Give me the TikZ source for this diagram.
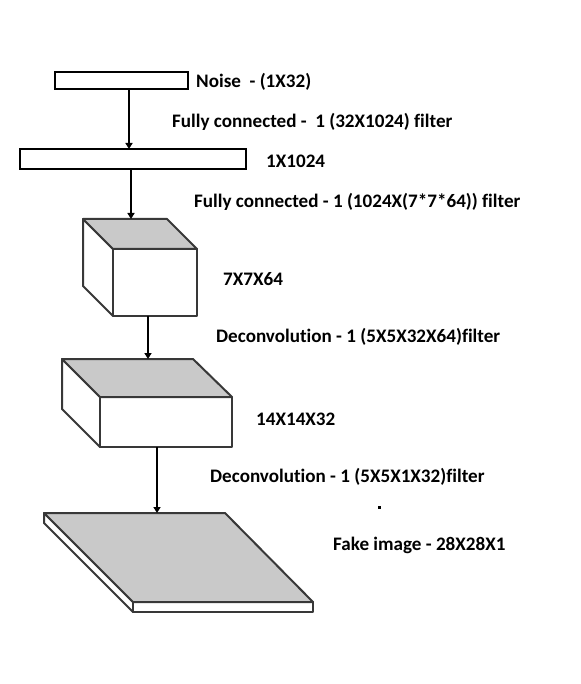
\documentclass[tikz,border=0pt]{standalone}
\usepackage{fontspec}
\setmainfont{Carlito}[Ligatures=NoCommon]
\usetikzlibrary{arrows.meta}
\begin{document}
\begin{tikzpicture}[x=1pt,y=-1pt,
  lbl/.style={anchor=west,inner sep=0pt,font=\fontsize{19.1}{21}\selectfont\bfseries},
  flat/.style={draw=black,line width=2.6pt,fill=white,inner sep=0pt,outer sep=0pt},
  arr/.style={line width=2pt,-{Triangle[width=7pt,length=6pt]}},
  face/.style={draw=black!78,line width=2pt,line join=round},
  topface/.style={face,fill=black!21},
  sideface/.style={face,fill=white}]
\useasboundingbox (0,0) rectangle (580,684);
% flat layers
\node[flat,minimum width=133pt,minimum height=17pt] (noise) at (121.5,80.5) {};
\node[flat,minimum width=226pt,minimum height=20pt] (fc) at (133,159) {};
% cube 1 (7x7x64)
\coordinate (aA) at (83,219); \coordinate (aB) at (167,219);
\coordinate (aC) at (113,249); \coordinate (aD) at (197,249);
\coordinate (aE) at (197,316); \coordinate (aF) at (113,316);
\coordinate (aG) at (83,286);
\draw[sideface] (aA) -- (aC) -- (aF) -- (aG) -- cycle;
\draw[sideface] (aC) -- (aD) -- (aE) -- (aF) -- cycle;
\draw[topface] (aA) -- (aB) -- (aD) -- (aC) -- cycle;
\coordinate (c1top) at (131,219);
\coordinate (c1bot) at (148,316);
% cube 2 (14x14x32)
\coordinate (bA) at (62,359); \coordinate (bB) at (193,359);
\coordinate (bC) at (100,397); \coordinate (bD) at (232,397);
\coordinate (bE) at (232,447); \coordinate (bF) at (100,447);
\coordinate (bG) at (62,409);
\draw[sideface] (bA) -- (bC) -- (bF) -- (bG) -- cycle;
\draw[sideface] (bC) -- (bD) -- (bE) -- (bF) -- cycle;
\draw[topface] (bA) -- (bB) -- (bD) -- (bC) -- cycle;
\coordinate (c2top) at (148,359);
\coordinate (c2bot) at (157,447);
% plate (28x28x1)
\coordinate (pA) at (44,513); \coordinate (pB) at (225,513);
\coordinate (pC) at (313,602); \coordinate (pD) at (133,602);
\coordinate (pCb) at (313,612); \coordinate (pDb) at (133,612);
\coordinate (pAb) at (44,523);
\draw[sideface] (pA) -- (pD) -- (pDb) -- (pAb) -- cycle;
\draw[sideface] (pD) -- (pC) -- (pCb) -- (pDb) -- cycle;
\draw[topface] (pA) -- (pB) -- (pC) -- (pD) -- cycle;
\coordinate (ptop) at (157,513);
% connectors
\draw[arr] ([xshift=7.5pt]noise.south) -- ([xshift=7.5pt]noise.south |- fc.north);
\draw[arr] ([xshift=-2pt]fc.south) -- (c1top);
\draw[arr] (c1bot) -- (c2top);
\draw[arr] (c2bot) -- (ptop);
% labels
\node[lbl] (t1) at (196,82) {Noise\ \ - (1X32)};
\node[lbl] (t2) at (172,122) {Fully connected -\ \ 1 (32X1024) filter};
\node[lbl] (t3) at (266,161) {1X1024};
\node[lbl] (t4) at (194,202) {Fully connected - 1 (1024X(7*7*64)) filter};
\node[lbl] (t5) at (223,279) {7X7X64};
\node[lbl] (t6) at (216,337) {Deconvolution - 1 (5X5X32X64)filter};
\node[lbl] (t7) at (256,419) {14X14X32};
\node[lbl] (t8) at (210,477) {Deconvolution - 1 (5X5X1X32)filter};
\node[lbl] (t9) at (333,545) {Fake image - 28X28X1};
\fill (378,506) rectangle (380.5,508.5);
\end{tikzpicture}
\end{document}
